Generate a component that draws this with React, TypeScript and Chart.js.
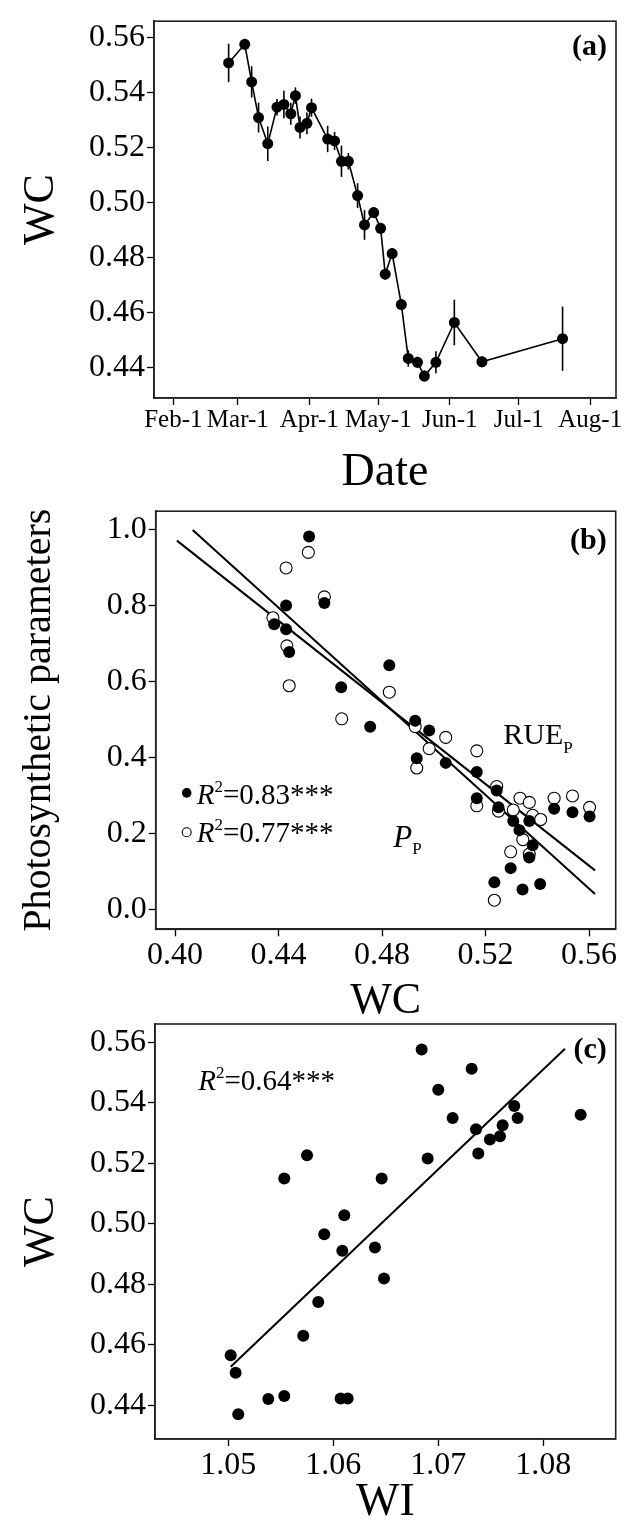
import React, { useEffect, useRef } from "react";
import { Chart, registerables } from "chart.js";

Chart.register(...registerables);

const FONT = "'Liberation Serif', 'Times New Roman', Times, serif";

// ---------- Panel (a): WC through the season ----------
const sampleDates = [
  "Feb-25", "Mar-4", "Mar-7", "Mar-10", "Mar-14", "Mar-18", "Mar-21", "Mar-24", "Mar-26", "Mar-28",
  "Mar-31", "Apr-2", "Apr-9", "Apr-12", "Apr-15", "Apr-18", "Apr-22", "Apr-25", "Apr-29", "May-2",
  "May-4", "May-7", "May-11", "May-14", "May-18", "May-21", "May-26", "Jun-3", "Jun-15", "Jul-20",
];
const wcMean = [
  0.5508, 0.5576, 0.5439, 0.5309, 0.5214, 0.5347, 0.5357, 0.5323, 0.5389, 0.5273,
  0.5288, 0.5345, 0.5231, 0.5224, 0.515, 0.515, 0.5025, 0.4918, 0.4963, 0.4906,
  0.4739, 0.4814, 0.4628, 0.4432, 0.4418, 0.4368, 0.4418, 0.4563, 0.442, 0.4504,
];
const wcSE = [
  0.007, 0.002, 0.0057, 0.0054, 0.0063, 0.003, 0.005, 0.004, 0.003, 0.004,
  0.004, 0.0033, 0.0048, 0.0033, 0.0057, 0.003, 0.0045, 0.0054, 0.002, 0.002,
  0.002, 0.002, 0.002, 0.003, 0.002, 0.002, 0.004, 0.0083, 0.002, 0.0117,
];
const dateTickLabels = ["Feb-1", "Mar-1", "Apr-1", "May-1", "Jun-1", "Jul-1", "Aug-1"];
const wcTicks = [0.44, 0.46, 0.48, 0.5, 0.52, 0.54, 0.56];

// ---------- Panel (b): photosynthetic parameters vs WC ----------
const ppWC = [
  0.4518, 0.4429, 0.4383, 0.4429, 0.4441, 0.4577, 0.4642, 0.4828, 0.4754, 0.4928,
  0.4982, 0.4934, 0.5046, 0.5166, 0.5243, 0.5166, 0.525, 0.5307, 0.5331, 0.5369,
  0.5382, 0.5369, 0.5297, 0.5234, 0.5343, 0.5411, 0.5465, 0.5536, 0.5602,
];
const ppValue = [
  0.983, 0.801, 0.752, 0.739, 0.679, 0.808, 0.586, 0.644, 0.482, 0.4976,
  0.472, 0.399, 0.387, 0.363, 0.314, 0.294, 0.27, 0.234, 0.21, 0.234,
  0.17, 0.138, 0.11, 0.073, 0.0535, 0.068, 0.266, 0.257, 0.246,
];
const rueWC = [
  0.4515, 0.4429, 0.4577, 0.4378, 0.4432, 0.4441, 0.4644, 0.4828, 0.4928, 0.5046,
  0.4982, 0.4934, 0.5166, 0.5243, 0.5166, 0.525, 0.5333, 0.5369, 0.5307, 0.5382,
  0.5413, 0.5344, 0.5369, 0.5297, 0.5234, 0.5465, 0.5536, 0.5602,
];
const rueValue = [
  0.941, 0.9, 0.824, 0.769, 0.695, 0.59, 0.503, 0.573, 0.4825, 0.454,
  0.4245, 0.3735, 0.4186, 0.325, 0.274, 0.26, 0.294, 0.283, 0.263, 0.249,
  0.238, 0.185, 0.147, 0.153, 0.0255, 0.294, 0.3, 0.27,
];
// fitted lines (end points)
const fitA_x = [0.4068, 0.5623];
const fitA_y = [1.0, 0.042];
const fitB_x = [0.4007, 0.5623];
const fitB_y = [0.972, 0.104];
const wcTicksB = [0.4, 0.44, 0.48, 0.52, 0.56];
const paramTicks = [0, 0.2, 0.4, 0.6, 0.8, 1.0];

// ---------- Panel (c): WC vs WI ----------
const wiValue = [
  1.05533, 1.0575, 1.05914, 1.06105, 1.06086, 1.06842, 1.07318, 1.07, 1.07137, 1.07359,
  1.07724, 1.07756, 1.07613, 1.07588, 1.07492, 1.07381, 1.08356, 1.06899, 1.06461, 1.06397,
  1.06483, 1.05857, 1.05714, 1.05023, 1.0507, 1.05095, 1.05381, 1.05533, 1.0607, 1.06137,
];
const wcByWI = [
  0.5149, 0.5226, 0.4965, 0.5028, 0.491, 0.5576, 0.5512, 0.5443, 0.5349, 0.5312,
  0.5389, 0.5349, 0.5325, 0.5289, 0.5278, 0.5232, 0.536, 0.5215, 0.5149, 0.4921,
  0.4819, 0.4741, 0.4629, 0.4565, 0.4507, 0.437, 0.442, 0.443, 0.4422, 0.4422,
];
const fitC_x = [1.05023, 1.08207];
const fitC_y = [0.4527, 0.5578];
const wiTicks = [1.05, 1.06, 1.07, 1.08];

// ---------- helpers ----------
const MONTH_START: Record<string, number> = {
  Jan: 0, Feb: 31, Mar: 59, Apr: 90, May: 120, Jun: 151, Jul: 181, Aug: 212,
};
const dayOfYear = (s: string) => {
  const [m, d] = s.split("-");
  return MONTH_START[m] + Number(d);
};
const dateTickDays = dateTickLabels.map(dayOfYear);

function makeAxis(o: {
  min: number; max: number; ticks: number[]; fmt: (v: number) => string;
  tickSize: number; title: string; titleSize: number; titlePad: number;
  horizontal: boolean; extent: number;
}) {
  return {
    type: "linear",
    min: o.min,
    max: o.max,
    afterBuildTicks: (s: any) => {
      s.ticks = o.ticks.map((v) => ({ value: v }));
    },
    afterFit: (s: any) => {
      if (o.horizontal) s.height = o.extent;
      else s.width = o.extent;
    },
    ticks: {
      autoSkip: false,
      maxRotation: 0,
      minRotation: 0,
      padding: o.horizontal ? 0 : 2,
      color: "#000",
      font: { family: FONT, size: o.tickSize },
      callback: (v: any) => o.fmt(Number(v)),
    },
    grid: {
      display: true,
      drawOnChartArea: false,
      drawTicks: true,
      tickLength: 7,
      tickWidth: 1.3,
      tickColor: "#000",
      color: "#000",
    },
    border: { display: true, color: "#222", width: 1.6 },
    title: {
      display: true,
      text: o.title,
      color: "#000",
      font: { family: FONT, size: o.titleSize, lineHeight: 0.6 },
      padding: o.horizontal ? { top: 0, bottom: o.titlePad } : { top: o.titlePad, bottom: 0 },
    },
  };
}

type Part = { t: string; size: number; style?: string; weight?: string; dy?: number };
function drawRich(ctx: CanvasRenderingContext2D, x: number, y: number, parts: Part[], align: "left" | "right" = "left") {
  ctx.save();
  ctx.fillStyle = "#000";
  ctx.textBaseline = "alphabetic";
  ctx.textAlign = "left";
  const fontOf = (p: Part) => `${p.style || "normal"} ${p.weight || "normal"} ${p.size}px ${FONT}`;
  let total = 0;
  for (const p of parts) {
    ctx.font = fontOf(p);
    total += ctx.measureText(p.t).width;
  }
  let cx = align === "right" ? x - total : x;
  for (const p of parts) {
    ctx.font = fontOf(p);
    ctx.fillText(p.t, cx, y + (p.dy || 0));
    cx += ctx.measureText(p.t).width;
  }
  ctx.restore();
}

const framePlugin = {
  id: "frame",
  afterDraw(chart: any) {
    const { ctx, chartArea } = chart;
    const { left, top, right, bottom } = chartArea;
    ctx.save();
    ctx.strokeStyle = "#222";
    ctx.lineWidth = 1.6;
    ctx.strokeRect(left, top, right - left, bottom - top);
    ctx.restore();
  },
};

function annotations(draw: (ctx: CanvasRenderingContext2D, area: any) => void) {
  return {
    id: "annotations",
    afterDraw(chart: any) {
      draw(chart.ctx, chart.chartArea);
    },
  };
}

const errorBarPlugin = {
  id: "errorBars",
  beforeDatasetsDraw(chart: any) {
    const { ctx } = chart;
    const xs = chart.scales.x;
    const ys = chart.scales.y;
    ctx.save();
    ctx.strokeStyle = "#000";
    ctx.lineWidth = 1.6;
    sampleDates.forEach((d, i) => {
      const px = xs.getPixelForValue(dayOfYear(d));
      const y1 = ys.getPixelForValue(wcMean[i] + wcSE[i]);
      const y2 = ys.getPixelForValue(wcMean[i] - wcSE[i]);
      ctx.beginPath();
      ctx.moveTo(px, y1);
      ctx.lineTo(px, y2);
      ctx.stroke();
    });
    ctx.restore();
  },
};

const R2 = (value: string): Part[] => [
  { t: "R", size: 29, style: "italic" },
  { t: "2", size: 17, dy: -12 },
  { t: "=" + value + "***", size: 29 },
];

const W = 625;
const TICK = 32;

export default function App() {
  const refA = useRef<HTMLCanvasElement | null>(null);
  const refB = useRef<HTMLCanvasElement | null>(null);
  const refC = useRef<HTMLCanvasElement | null>(null);

  useEffect(() => {
    const charts: Chart[] = [];

    // ----- (a) -----
    charts.push(
      new Chart(refA.current as HTMLCanvasElement, {
        type: "line",
        data: {
          datasets: [
            {
              data: sampleDates.map((d, i) => ({ x: dayOfYear(d), y: wcMean[i] })),
              borderColor: "#000",
              borderWidth: 1.6,
              pointRadius: 5.5,
              pointBackgroundColor: "#000",
              pointBorderColor: "#000",
              pointBorderWidth: 0,
              tension: 0,
            },
          ],
        },
        options: {
          responsive: false,
          animation: false,
          events: [],
          layout: { padding: { top: 14, right: W - 616, left: 0, bottom: 0 } },
          plugins: { legend: { display: false }, tooltip: { enabled: false } },
          scales: {
            x: makeAxis({
              min: 23.6, max: 224.2, ticks: dateTickDays,
              fmt: (v) => dateTickLabels[dateTickDays.indexOf(v)] ?? "",
              tickSize: 25, title: "Date", titleSize: 46, titlePad: 13.7,
              horizontal: true, extent: 500 - 398,
            }),
            y: makeAxis({
              min: 0.4288, max: 0.566, ticks: wcTicks, fmt: (v) => v.toFixed(2),
              tickSize: TICK, title: "WC", titleSize: 44, titlePad: 28,
              horizontal: false, extent: 154,
            }),
          } as any,
        },
        plugins: [
          errorBarPlugin,
          framePlugin,
          annotations((ctx, a) => {
            drawRich(ctx, a.right - 9, a.top + 34, [{ t: "(a)", size: 30, weight: "bold" }], "right");
          }),
        ],
      } as any)
    );

    // ----- (b) -----
    charts.push(
      new Chart(refB.current as HTMLCanvasElement, {
        type: "scatter",
        data: {
          datasets: [
            {
              data: ppWC.map((x, i) => ({ x, y: ppValue[i] })),
              pointRadius: 6,
              pointBackgroundColor: "#000",
              pointBorderColor: "#000",
              pointBorderWidth: 0,
            },
            {
              data: rueWC.map((x, i) => ({ x, y: rueValue[i] })),
              pointRadius: 6,
              pointBackgroundColor: "#fff",
              pointBorderColor: "#000",
              pointBorderWidth: 1.1,
            },
            {
              data: fitA_x.map((x, i) => ({ x, y: fitA_y[i] })),
              showLine: true,
              borderColor: "#000",
              borderWidth: 2,
              pointRadius: 0,
            },
            {
              data: fitB_x.map((x, i) => ({ x, y: fitB_y[i] })),
              showLine: true,
              borderColor: "#000",
              borderWidth: 2,
              pointRadius: 0,
            },
          ],
        },
        options: {
          responsive: false,
          animation: false,
          events: [],
          layout: { padding: { top: 7.3, right: W - 615.7, left: 0, bottom: 0 } },
          plugins: { legend: { display: false }, tooltip: { enabled: false } },
          scales: {
            x: makeAxis({
              min: 0.3925, max: 0.5703, ticks: wcTicksB, fmt: (v) => v.toFixed(2),
              tickSize: TICK, title: "WC", titleSize: 44, titlePad: 20.7,
              horizontal: true, extent: 545 - (929.3 - 490),
            }),
            y: makeAxis({
              min: -0.051, max: 1.0494, ticks: paramTicks, fmt: (v) => v.toFixed(1),
              tickSize: TICK, title: "Photosynthetic parameters", titleSize: 40, titlePad: 27,
              horizontal: false, extent: 155.7,
            }),
          } as any,
        },
        plugins: [
          framePlugin,
          annotations((ctx, a) => {
            drawRich(ctx, a.right - 9, a.top + 38, [{ t: "(b)", size: 30, weight: "bold" }], "right");
            ctx.save();
            ctx.fillStyle = "#000";
            ctx.beginPath();
            ctx.arc(a.left + 31, a.top + 281.7, 4.8, 0, Math.PI * 2);
            ctx.fill();
            ctx.strokeStyle = "#000";
            ctx.lineWidth = 1.1;
            ctx.beginPath();
            ctx.arc(a.left + 31, a.top + 321, 4.5, 0, Math.PI * 2);
            ctx.stroke();
            ctx.restore();
            drawRich(ctx, a.left + 41, a.top + 292.7, R2("0.83"));
            drawRich(ctx, a.left + 41, a.top + 331, R2("0.77"));
            drawRich(ctx, a.left + 347.6, a.top + 232.7, [
              { t: "RUE", size: 30 },
              { t: "P", size: 17, dy: 9 },
            ]);
            drawRich(ctx, a.left + 237.6, a.top + 336, [
              { t: "P", size: 31, style: "italic" },
              { t: "P", size: 17, dy: 7 },
            ]);
          }),
        ],
      } as any)
    );

    // ----- (c) -----
    charts.push(
      new Chart(refC.current as HTMLCanvasElement, {
        type: "scatter",
        data: {
          datasets: [
            {
              data: wiValue.map((x, i) => ({ x, y: wcByWI[i] })),
              pointRadius: 6,
              pointBackgroundColor: "#000",
              pointBorderColor: "#000",
              pointBorderWidth: 0,
            },
            {
              data: fitC_x.map((x, i) => ({ x, y: fitC_y[i] })),
              showLine: true,
              borderColor: "#000",
              borderWidth: 2,
              pointRadius: 0,
            },
          ],
        },
        options: {
          responsive: false,
          animation: false,
          events: [],
          layout: { padding: { top: 24, right: W - 615.7, left: 0, bottom: 0 } },
          plugins: { legend: { display: false }, tooltip: { enabled: false } },
          scales: {
            x: makeAxis({
              min: 1.04302, max: 1.0869, ticks: wiTicks, fmt: (v) => v.toFixed(2),
              tickSize: TICK, title: "WI", titleSize: 46, titlePad: 5.2,
              horizontal: true, extent: 1522 - 1439,
            }),
            y: makeAxis({
              min: 0.4288, max: 0.566, ticks: wcTicks, fmt: (v) => v.toFixed(2),
              tickSize: TICK, title: "WC", titleSize: 44, titlePad: 28,
              horizontal: false, extent: 155,
            }),
          } as any,
        },
        plugins: [
          framePlugin,
          annotations((ctx, a) => {
            drawRich(ctx, a.right - 9, a.top + 34, [{ t: "(c)", size: 30, weight: "bold" }], "right");
            drawRich(ctx, a.left + 43.3, a.top + 66, R2("0.64"));
          }),
        ],
      } as any)
    );

    return () => {
      charts.forEach((c) => c.destroy());
    };
  }, []);

  const canvasStyle = (top: number, h: number): React.CSSProperties => ({
    position: "absolute",
    left: 0,
    top,
    width: W,
    height: h,
  });

  return (
    <div style={{ position: "absolute", left: 0, top: 0, width: W, height: 1522, background: "#fff", overflow: "hidden" }}>
      <canvas ref={refA} width={W} height={500} style={canvasStyle(0, 500)} />
      <canvas ref={refB} width={W} height={545} style={canvasStyle(490, 545)} />
      <canvas ref={refC} width={W} height={522} style={canvasStyle(1000, 522)} />
    </div>
  );
}
